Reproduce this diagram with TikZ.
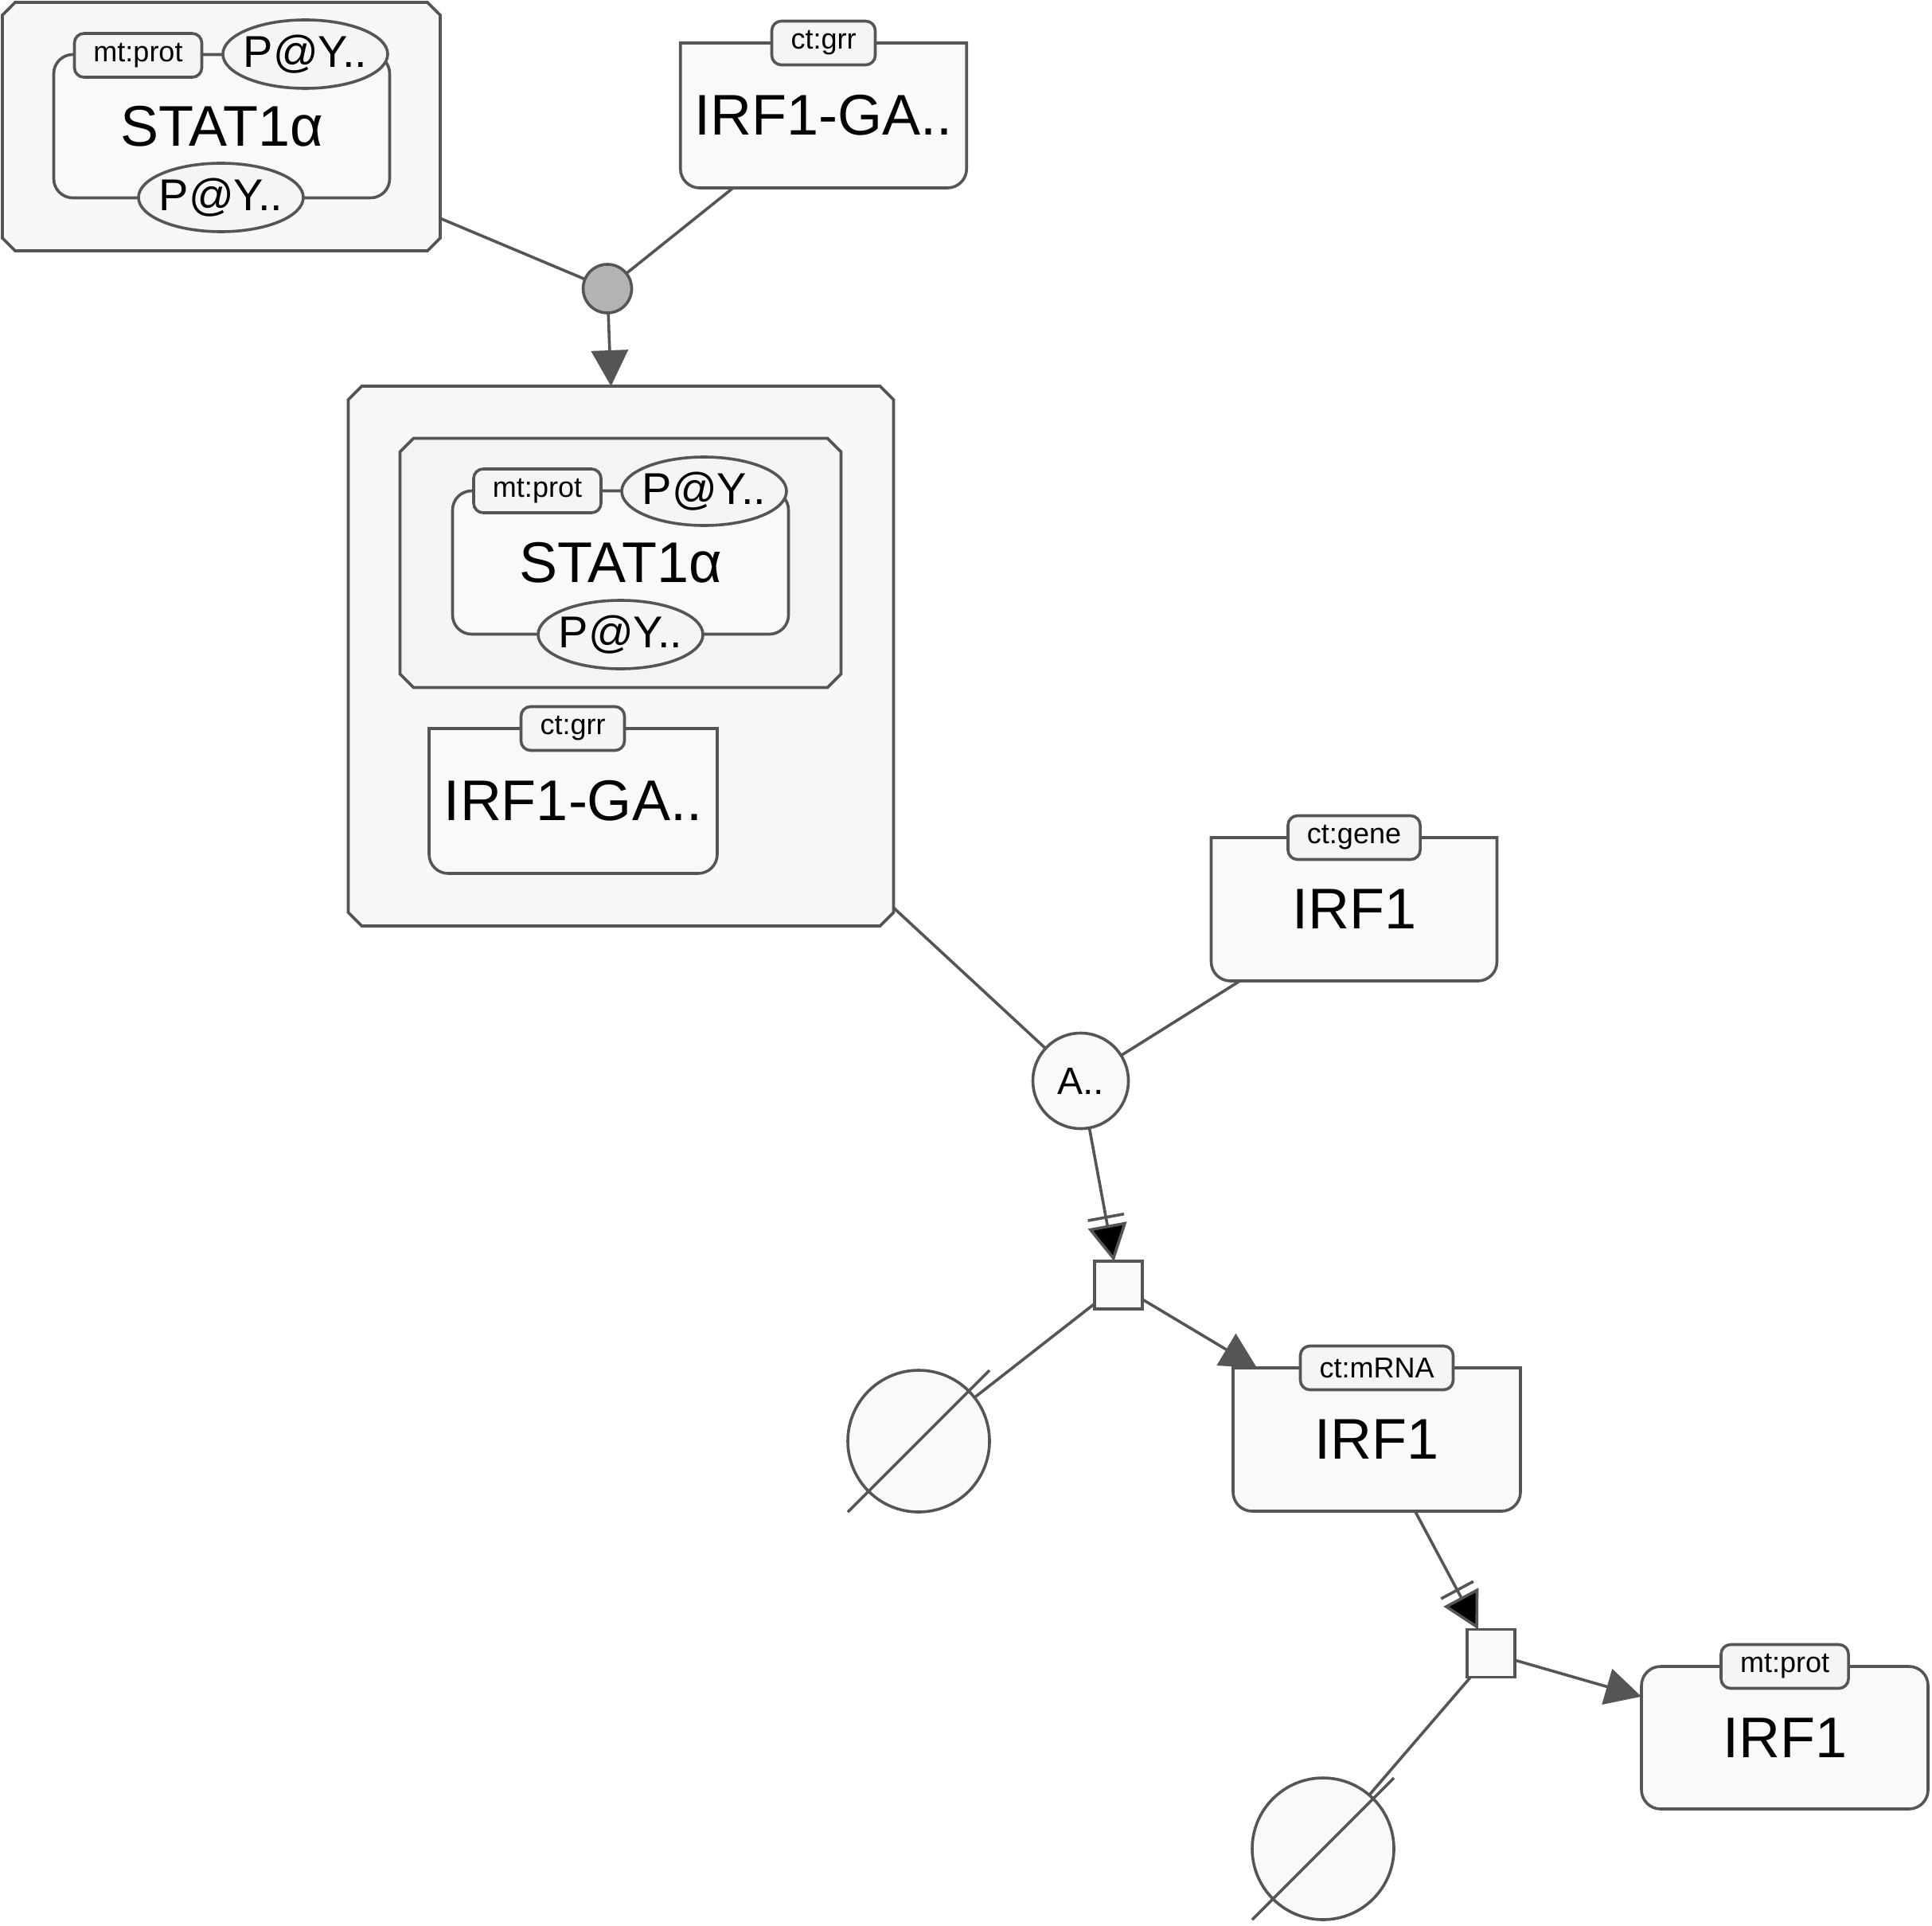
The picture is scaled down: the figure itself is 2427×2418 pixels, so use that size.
\documentclass[tikz,border=0pt]{standalone}
\usepackage{fontspec}
\setmainfont{Liberation Sans}
\usetikzlibrary{shapes.geometric,arrows.meta,decorations.markings}
\definecolor{lc}{HTML}{555555}
\definecolor{cpx}{HTML}{F8F8F7}
\definecolor{cpxin}{HTML}{F4F4F2}
\definecolor{nfill}{HTML}{F9F9F9}
\definecolor{ufill}{HTML}{F5F5F5}
\definecolor{assocfill}{HTML}{B3B3B3}
\newcommand\bigfont{\fontsize{18pt}{21pt}\selectfont}
\newcommand\svfont{\fontsize{14pt}{16pt}\selectfont}
\newcommand\ufont{\fontsize{9pt}{11pt}\selectfont}
\newcommand\andfont{\fontsize{12pt}{14pt}\selectfont}
\newcommand\svtext[1]{\makebox[0pt]{#1}}
\newcommand\cplxshape[3]{%
  \filldraw[shapeline, fill=#3] ([xshift=#2]#1.north west) -- ([xshift=-#2]#1.north east) -- ([yshift=-#2]#1.north east) -- ([yshift=#2]#1.south east) -- ([xshift=-#2]#1.south east) -- ([xshift=#2]#1.south west) -- ([yshift=#2]#1.south west) -- ([yshift=-#2]#1.north west) -- cycle;}
\newcommand\nafshape[2]{%
  \filldraw[shapeline, fill=nfill] (#1.north west) -- (#1.north east) -- ([yshift=#2]#1.south east) arc[start angle=0,end angle=-90,radius=#2] -- ([xshift=#2]#1.south west) arc[start angle=270,end angle=180,radius=#2] -- cycle;}
\begin{document}
\begin{tikzpicture}[x=0.25pt,y=-0.25pt,
  every node/.style={outer sep=0pt},
  shapeline/.style={draw=lc, line width=0.9pt, line join=miter},
  holder/.style={rectangle, inner sep=0pt, outer sep=0pt},
  macro/.style={rectangle, rounded corners=6pt, draw=lc, line width=0.9pt, fill=nfill, inner sep=0pt, font=\bigfont, minimum width=105.5pt, minimum height=45pt},
  unitinfo/.style={rectangle, rounded corners=3pt, draw=lc, line width=0.9pt, fill=ufill, inner xsep=6pt, inner ysep=0pt, minimum height=13.75pt, font=\ufont},
  statevar/.style={ellipse, draw=lc, line width=0.9pt, fill=ufill, inner sep=0pt, minimum width=51.75pt, minimum height=21.5pt, font=\svfont},
  bigtext/.style={font=\bigfont, inner sep=0pt},
  assocnode/.style={circle, draw=lc, line width=0.9pt, fill=assocfill, minimum size=15.25pt, inner sep=0pt},
  andnode/.style={circle, draw=lc, line width=0.9pt, fill=nfill, minimum size=30pt, inner sep=0pt, font=\andfont},
  procnode/.style={rectangle, draw=lc, line width=0.9pt, fill=nfill, minimum size=15pt, inner sep=0pt},
  emptynode/.style={circle, draw=lc, line width=0.9pt, fill=nfill, minimum size=44.5pt, inner sep=0pt},
  conn/.style={draw=lc, line width=0.9pt},
  prodarrow/.style={-{Triangle[length=11.25pt,width=11.5pt]}},
  necstim/.style={-{Triangle[length=11.5pt,width=12.25pt,fill=black]},
    postaction={decorate, decoration={markings, mark=at position -14pt with {%
      \draw[arrows=-, draw=lc, line width=0.9pt] (0,-5.75pt) -- (0,5.75pt);}}}},
]
\useasboundingbox (0,0) rectangle (2427,2418);
% ---- complex 1
\node[holder, minimum width=137.5pt, minimum height=78pt] (c1) at (278,159) {};
\cplxshape{c1}{4pt}{cpx}
\node[macro] (m1) at (278.5,158.5) {STAT1α};
\node[unitinfo] (u1) at (173.5,69.5) {mt:prot};
\node[statevar] (s1a) at (383.5,68) {\svtext{P@Y..}};
\node[statevar] (s1b) at (277.5,248) {\svtext{P@Y..}};
% ---- IRF1-GA top
\node[holder, minimum width=89.875pt, minimum height=45.5pt] (g0) at (1034.5,145) {};
\nafshape{g0}{6pt}
\node[bigtext] (g0t) at (g0) {IRF1-GA..};
\node[unitinfo] (g0u) at (1034.5,54) {ct:grr};
% ---- association
\node[assocnode] (as) at (763,362.5) {};
% ---- complex 2
\node[holder, minimum width=171.25pt, minimum height=169.5pt] (c2) at (780,824) {};
\cplxshape{c2}{4.25pt}{cpx}
\node[holder, minimum width=138.5pt, minimum height=78.25pt] (ic) at (779.5,707) {};
\cplxshape{ic}{4.25pt}{cpxin}
\node[macro] (m2) at (779.5,706.5) {STAT1α};
\node[unitinfo] (u2) at (675,616.5) {mt:prot};
\node[statevar] (s2a) at (884.5,617) {\svtext{P@Y..}};
\node[statevar] (s2b) at (779.5,797) {\svtext{P@Y..}};
\node[holder, minimum width=90.5pt, minimum height=45.5pt] (g2) at (720,1006) {};
\nafshape{g2}{6pt}
\node[bigtext] (g2t) at (g2) {IRF1-GA..};
\node[unitinfo] (g2u) at (719.5,915) {ct:grr};
% ---- gene
\node[holder, minimum width=89.75pt, minimum height=45pt] (gene) at (1701,1142) {};
\nafshape{gene}{6pt}
\node[bigtext] (genet) at (gene) {IRF1};
\node[unitinfo] (geneu) at (1701,1052) {ct:gene};
% ---- AND
\node[andnode] (and) at (1357.5,1357.5) {A..};
% ---- process 1
\node[procnode] (p1) at (1405,1614) {};
\node[emptynode] (e1) at (1154,1810) {};
% ---- mRNA
\node[holder, minimum width=90.25pt, minimum height=45pt] (mrna) at (1729.5,1808) {};
\nafshape{mrna}{6pt}
\node[bigtext] (mrnat) at (mrna) {IRF1};
\node[unitinfo] (mrnau) at (1729.5,1718) {ct:mRNA};
% ---- process 2
\node[procnode] (p2) at (1873,2076.5) {};
\node[emptynode] (e2) at (1662,2322) {};
% ---- protein
\node[macro, minimum width=90pt, minimum height=44.75pt] (prot) at (2242,2182.5) {IRF1};
\node[unitinfo] (protu) at (2242,2093) {mt:prot};
% ---- connectors
\draw[conn] (c1) -- (as);
\draw[conn] (g0) -- (as);
\draw[conn, prodarrow] (as) -- (c2);
\draw[conn] (c2) -- (and);
\draw[conn] (gene) -- (and);
\draw[conn, necstim] (and) -- (p1);
\draw[conn] (p1) -- (e1);
\draw[conn, prodarrow] (p1) -- (mrna);
\draw[conn, necstim] (mrna) -- (p2);
\draw[conn] (p2) -- (e2);
\draw[conn, prodarrow] (p2) -- (prot);
% empty-set slashes
\draw[conn] ([shift={(-22.25pt,-22.25pt)}]e1.center) -- ([shift={(22.25pt,22.25pt)}]e1.center);
\draw[conn] ([shift={(-22.25pt,-22.25pt)}]e2.center) -- ([shift={(22.25pt,22.25pt)}]e2.center);
\end{tikzpicture}
\end{document}
